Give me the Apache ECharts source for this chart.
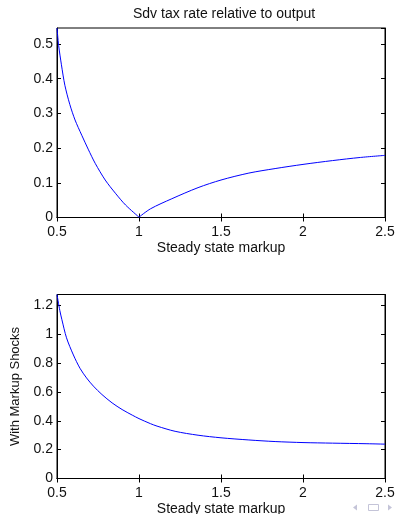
<!DOCTYPE html>
<html>
<head>
<meta charset="utf-8">
<script src="https://cdn.jsdelivr.net/npm/echarts@6/dist/echarts.min.js"></script>
<style>
html,body{margin:0;padding:0;background:#fff;}
#c{width:396px;height:514px;}
</style>
</head>
<body>
<div id="c"></div>
<script>
// Top panel: Sdv tax rate relative to output
const topX = [0.5, 0.51, 0.527, 0.548, 0.578, 0.61, 0.651, 0.69, 0.733, 0.794, 0.856, 0.918, 1.0, 1.07, 1.2, 1.36, 1.5, 1.67, 1.83, 2.0, 2.18, 2.35, 2.5];
const topY = [0.546, 0.496, 0.440, 0.381, 0.326, 0.281, 0.237, 0.197, 0.156, 0.108, 0.070, 0.036, 0.001, 0.025, 0.054, 0.086, 0.108, 0.128, 0.141, 0.153, 0.164, 0.173, 0.179];
// Bottom panel: With Markup Shocks
const botX = [0.5, 0.517, 0.53, 0.558, 0.6, 0.64, 0.68, 0.722, 0.774, 0.836, 0.897, 0.959, 1.0, 1.07, 1.11, 1.22, 1.36, 1.5, 1.67, 1.83, 2.0, 2.18, 2.39, 2.5];
const botY = [1.275, 1.165, 1.100, 0.975, 0.856, 0.764, 0.697, 0.640, 0.582, 0.524, 0.478, 0.439, 0.415, 0.380, 0.363, 0.327, 0.300, 0.282, 0.267, 0.256, 0.249, 0.245, 0.241, 0.238];

const titleText = 'Sdv tax rate relative to output';
const xName = 'Steady state markup';
const yNameBottom = 'With Markup Shocks';

const FONT = 'Liberation Sans, Arial, sans-serif';
const chart = echarts.init(document.getElementById('c'), null, {renderer: 'canvas'});

function mainX(gi, name, gap) {
  return {
    type: 'value', gridIndex: gi, min: 0.5, max: 2.5, interval: 0.5, position: 'bottom',
    name: name, nameLocation: 'middle', nameGap: gap,
    nameTextStyle: {fontFamily: FONT, fontSize: 14, color: '#111'},
    axisLine: {show: true, lineStyle: {color: '#000', width: 1}},
    axisTick: {show: true, inside: true, length: 4, lineStyle: {color: '#000'}},
    axisLabel: {show: true, fontFamily: FONT, fontSize: 14, color: '#111', margin: 8},
    splitLine: {show: false}
  };
}
function secX(gi) {
  return {
    type: 'value', gridIndex: gi, min: 0.5, max: 2.5, interval: 0.5, position: 'top',
    axisLine: {show: true, lineStyle: {color: '#000', width: 1}},
    axisTick: {show: true, inside: true, length: 4, lineStyle: {color: '#000'}},
    axisLabel: {show: false}, splitLine: {show: false}
  };
}
function mainY(gi, max, interval, name) {
  return {
    type: 'value', gridIndex: gi, min: 0, max: max, interval: interval, position: 'left',
    name: name || '', nameLocation: 'middle', nameGap: 35, nameRotate: 90,
    nameTextStyle: {fontFamily: FONT, fontSize: 13, color: '#111'},
    axisLine: {show: true, lineStyle: {color: '#000', width: 1}},
    axisTick: {show: true, inside: true, length: 4, lineStyle: {color: '#000'}},
    axisLabel: {show: true, fontFamily: FONT, fontSize: 14, color: '#111', margin: 4, showMaxLabel: false},
    splitLine: {show: false}
  };
}
function secY(gi, max, interval) {
  return {
    type: 'value', gridIndex: gi, min: 0, max: max, interval: interval, position: 'right',
    axisLine: {show: true, lineStyle: {color: '#000', width: 1}},
    axisTick: {show: true, inside: true, length: 4, lineStyle: {color: '#000'}},
    axisLabel: {show: false}, splitLine: {show: false}
  };
}

const topData = topX.map((x, i) => [x, topY[i]]);
const botData = botX.map((x, i) => [x, botY[i]]);
const topLeft = topData.filter(d => d[0] <= 1);
const topRight = topData.filter(d => d[0] >= 1);

const lineStyle = {color: '#0000ff', width: 1};
const navColor = '#c4c4d8';

chart.setOption({
  animation: false,
  backgroundColor: '#fff',
  title: {
    text: titleText, left: 128, top: 2,
    textStyle: {fontFamily: FONT, fontSize: 14, fontWeight: 'normal', color: '#111'}
  },
  grid: [
    {left: 57, right: 11, top: 28, height: 189.5, containLabel: false, outerBoundsMode: 'none',
     show: true, borderColor: '#000', borderWidth: 1, backgroundColor: 'transparent'},
    {left: 57, right: 11, top: 294.5, height: 184, containLabel: false, outerBoundsMode: 'none',
     show: true, borderColor: '#000', borderWidth: 1, backgroundColor: 'transparent'}
  ],
  xAxis: [mainX(0, xName, 24), secX(0), mainX(1, xName, 24), secX(1)],
  yAxis: [mainY(0, 0.546, 0.1), secY(0, 0.546, 0.1), mainY(1, 1.275, 0.2, yNameBottom), secY(1, 1.275, 0.2)],
  series: [
    {type: 'line', xAxisIndex: 0, yAxisIndex: 0, data: topLeft, showSymbol: false, smooth: 0.3,
     lineStyle: lineStyle, itemStyle: {color: '#0000ff'}},
    {type: 'line', xAxisIndex: 0, yAxisIndex: 0, data: topRight, showSymbol: false, smooth: 0.3,
     lineStyle: lineStyle, itemStyle: {color: '#0000ff'}},
    {type: 'line', xAxisIndex: 2, yAxisIndex: 2, data: botData, showSymbol: false, smooth: 0.3,
     lineStyle: lineStyle, itemStyle: {color: '#0000ff'}}
  ],
  graphic: [
    {type: 'polygon', shape: {points: [[357, 504.5], [357, 510.5], [353, 507.5]]}, style: {fill: navColor}},
    {type: 'rect', shape: {x: 368.5, y: 504.5, width: 10, height: 6}, style: {fill: 'none', stroke: navColor, lineWidth: 1}},
    {type: 'polygon', shape: {points: [[388, 504.5], [388, 510.5], [392, 507.5]]}, style: {fill: navColor}}
  ]
});
</script>
</body>
</html>
